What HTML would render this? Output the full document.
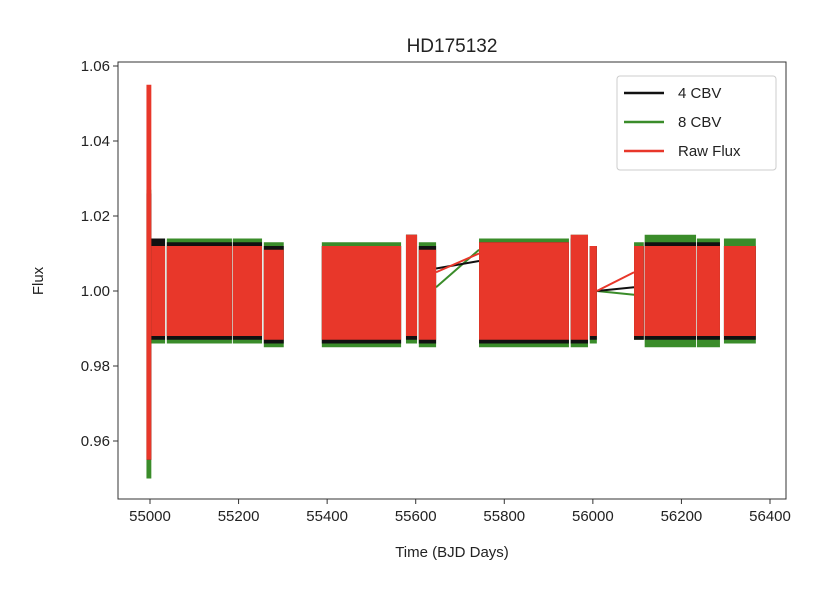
<!DOCTYPE html>
<html><head><meta charset="utf-8"><style>
body{margin:0;background:#fff;font-family:"Liberation Sans","DejaVu Sans",sans-serif}
</style></head><body>
<svg id="c" width="826" height="592" font-family="Liberation Sans, DejaVu Sans, sans-serif"></svg>
<script>
const xTicks=[55000,55200,55400,55600,55800,56000,56200,56400];
const yTicks=[0.96,0.98,1.00,1.02,1.04,1.06];
const yTickLabels=["0.96","0.98","1.00","1.02","1.04","1.06"];
// segments: [tStart, tEnd, low, high]
const segGreen=[[54992,55003,0.950,1.027],[55003,55034,0.986,1.014],[55038,55185,0.986,1.014],[55187,55253,0.986,1.014],[55257,55302,0.985,1.013],[55388,55567,0.985,1.013],[55578,55603,0.986,1.015],[55607,55646,0.985,1.013],[55743,55946,0.985,1.014],[55950,55989,0.985,1.015],[55993,56009,0.986,1.012],[56093,56115,0.987,1.013],[56117,56233,0.985,1.015],[56235,56287,0.985,1.014],[56296,56368,0.986,1.014]];
const segBlack=[[54992,55003,0.955,1.026],[55003,55034,0.987,1.014],[55038,55185,0.987,1.013],[55187,55253,0.987,1.013],[55257,55302,0.986,1.012],[55388,55567,0.986,1.012],[55578,55603,0.987,1.015],[55607,55646,0.986,1.012],[55743,55946,0.986,1.013],[55950,55989,0.986,1.014],[55993,56009,0.987,1.012],[56093,56115,0.987,1.012],[56117,56233,0.987,1.013],[56235,56287,0.987,1.013],[56296,56368,0.987,1.012]];
const segRed=[[54992,55003,0.955,1.055],[55003,55034,0.988,1.012],[55038,55185,0.988,1.012],[55187,55253,0.988,1.012],[55257,55302,0.987,1.011],[55388,55567,0.987,1.012],[55578,55603,0.988,1.015],[55607,55646,0.987,1.011],[55743,55946,0.987,1.013],[55950,55989,0.987,1.015],[55993,56009,0.988,1.012],[56093,56115,0.988,1.012],[56117,56233,0.988,1.012],[56235,56287,0.988,1.012],[56296,56368,0.988,1.012]];
const gapGreen=[[55646,1.001,55743,1.011],[56009,1.000,56093,0.999]];
const gapBlack=[[55646,1.006,55743,1.008],[56009,1.000,56093,1.001]];
const gapRed=[[55646,1.005,55743,1.010],[56009,1.000,56093,1.005]];

const L=118,R=786,T=62,B=499;
const X=t=>150+(t-55000)*620/1400;
const Y=v=>291-(v-1.0)*75/0.02;
const svg=document.getElementById('c');const NS='http://www.w3.org/2000/svg';
function mk(tag,attrs,parent){const e=document.createElementNS(NS,tag);for(const k in attrs)e.setAttribute(k,attrs[k]);(parent||svg).appendChild(e);return e;}
const title=mk('text',{x:452,y:52,'text-anchor':'middle','font-size':19,fill:'#222'});title.textContent='HD175132';


function series(segs,gaps,col,name){const g=mk('g',{});


segs.forEach(s=>{const r=mk('rect',{x:X(s[0]),y:Y(s[3]),width:Math.max(1.5,X(s[1])-X(s[0])),height:Y(s[2])-Y(s[3]),fill:col},g);

});
gaps.forEach(p=>{const l=mk('line',{x1:X(p[0]),y1:Y(p[1]),x2:X(p[2]),y2:Y(p[3]),stroke:col,'stroke-width':2},g);

});}
series(segGreen,gapGreen,'#3a8c2a','series-8cbv');
series(segBlack,gapBlack,'#111','series-4cbv');
series(segRed,gapRed,'#e8372a','series-raw-flux');
const frame=mk('rect',{x:L,y:T,width:R-L,height:B-T,fill:'none',stroke:'#333','stroke-width':1});


xTicks.forEach(t=>{mk('line',{x1:X(t),y1:B,x2:X(t),y2:B+5,stroke:'#333'});const tx=mk('text',{x:X(t),y:B+22,'text-anchor':'middle','font-size':15,fill:'#222'});tx.textContent=t;

});
yTicks.forEach((v,i)=>{mk('line',{x1:L-5,y1:Y(v),x2:L,y2:Y(v),stroke:'#333'});const tx=mk('text',{x:L-8,y:Y(v)+5,'text-anchor':'end','font-size':15,fill:'#222'});tx.textContent=yTickLabels[i];

});
const xl=mk('text',{x:452,y:557,'text-anchor':'middle','font-size':15,fill:'#222'});xl.textContent='Time (BJD Days)';


const yl=mk('text',{x:0,y:0,'text-anchor':'middle','font-size':15,fill:'#222',transform:'translate(43,281) rotate(-90)'});yl.textContent='Flux';


const lg=mk('g',{});


mk('rect',{x:617,y:76,width:159,height:94,rx:3,fill:'#fff',stroke:'#ccc'},lg);
[['4 CBV','#111'],['8 CBV','#3a8c2a'],['Raw Flux','#e8372a']].forEach((e,i)=>{const y=93+i*29;
const g=mk('g',{},lg);


mk('line',{x1:624,y1:y,x2:664,y2:y,stroke:e[1],'stroke-width':2.5},g);
const t=mk('text',{x:678,y:y+5,'font-size':15,fill:'#222'},g);t.textContent=e[0];});
</script>
</body></html>
